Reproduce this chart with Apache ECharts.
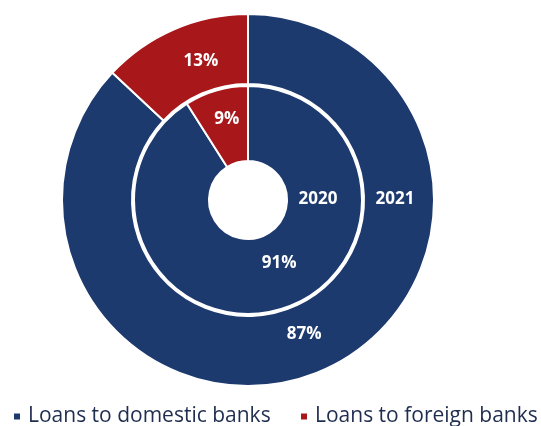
<!DOCTYPE html>
<html>
<head>
<meta charset="utf-8">
<style>
  html, body { margin: 0; padding: 0; background: #ffffff; }
  #chart { width: 541px; height: 426px; }
</style>
<script src="https://cdn.jsdelivr.net/npm/echarts@6/dist/echarts.min.js"></script>
</head>
<body>
<div id="chart"></div>
<script>
// Loan composition by counterparty, two years as nested rings
const categories = ['Loans to domestic banks', 'Loans to foreign banks'];
const values2020 = [91, 9];
const values2021 = [87, 13];
const yearLabels = ['2020', '2021'];
const colors = ['#1d3a6e', '#a8171a'];

const chart = echarts.init(document.getElementById('chart'), null, { renderer: 'canvas' });

const center = [248, 200];
const labelStyle = {
  show: true,
  position: 'inside',
  formatter: '{c}%',
  color: '#ffffff',
  fontFamily: 'Open Sans',
  fontWeight: 'bold',
  fontSize: 17
};

// small nudges so the value labels sit where they read best in each slice
function ringData(vals, offsets) {
  return categories.map((name, i) => ({
    name: name,
    value: vals[i],
    label: { offset: offsets[i] }
  }));
}

// one legend entry per category, placed side by side along the bottom
const legendLefts = [12, 299];
const legends = categories.map((name, i) => ({
  data: [name],
  left: legendLefts[i],
  top: 406,
  padding: 0,
  icon: 'rect',
  itemWidth: 8,
  itemHeight: 8,
  textStyle: { fontFamily: 'Open Sans', fontSize: 21, color: '#1f2d4f', padding: [0, 0, 0, 2] }
}));

chart.setOption({
  animation: false,
  color: colors,
  legend: legends,
  series: [
    {
      name: yearLabels[0],
      type: 'pie',
      center: center,
      radius: [39, 114],
      startAngle: 90,
      clockwise: true,
      label: labelStyle,
      labelLine: { show: false },
      itemStyle: { borderColor: '#ffffff', borderWidth: 2 },
      emphasis: { disabled: true },
      data: ringData(values2020, [[9, -13], [1, -5]])
    },
    {
      name: yearLabels[1],
      type: 'pie',
      center: center,
      radius: [116, 186],
      startAngle: 90,
      clockwise: true,
      label: labelStyle,
      labelLine: { show: false },
      itemStyle: { borderColor: '#ffffff', borderWidth: 2 },
      emphasis: { disabled: true },
      data: ringData(values2021, [[-5, -7], [14, 2]])
    }
  ],
  graphic: [
    {
      type: 'text',
      x: 318, y: 199, z: 100,
      style: { text: yearLabels[0], fill: '#ffffff', font: 'bold 17px "Open Sans"', align: 'center', verticalAlign: 'middle' }
    },
    {
      type: 'text',
      x: 395, y: 199, z: 100,
      style: { text: yearLabels[1], fill: '#ffffff', font: 'bold 17px "Open Sans"', align: 'center', verticalAlign: 'middle' }
    }
  ]
});
</script>
</body>
</html>
